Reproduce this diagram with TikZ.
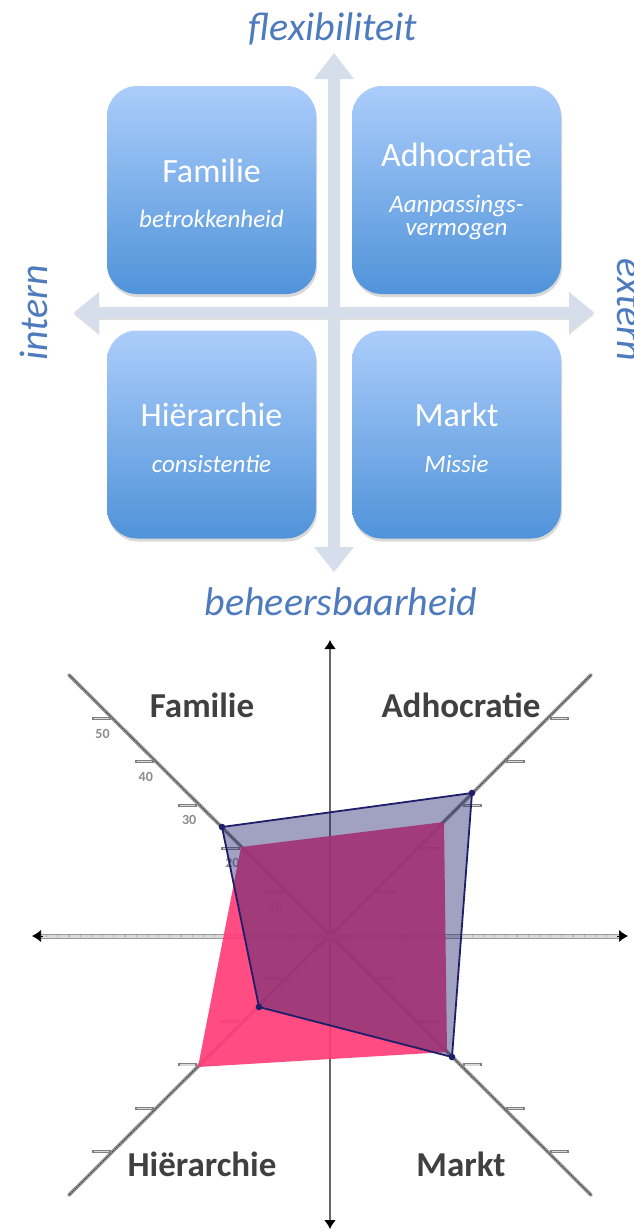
\documentclass[tikz,border=0pt]{standalone}
\usepackage{fontspec}
\setmainfont{Carlito}
\usetikzlibrary{arrows.meta,calc,shadows}

\definecolor{boxtop}{RGB}{171,205,251}
\definecolor{boxbot}{RGB}{80,147,217}
\definecolor{arrowfill}{RGB}{214,221,235}
\definecolor{dimblue}{RGB}{78,122,190}
\definecolor{pinkfill}{RGB}{255,62,122}
\definecolor{navy}{RGB}{30,30,105}
\definecolor{navyfill}{RGB}{38,38,112}

\begin{document}
\begin{tikzpicture}[x=1pt,y=-1pt,
  >={Latex[length=9pt,width=12pt,color=black,fill=black]},
  qbox/.style={rounded corners=30pt, minimum width=209pt, minimum height=208pt,
    inner sep=0pt, top color=boxtop, bottom color=boxbot,
    drop shadow={shadow xshift=1pt, shadow yshift=-3pt, opacity=0.25, fill=black!60}},
  boxtitle/.style={text=white, anchor=base, inner sep=0pt, font=\fontsize{34}{38}\selectfont},
  boxsub/.style={text=white, anchor=base, inner sep=0pt, font=\itshape\fontsize{25}{28}\selectfont},
  dimlab/.style={text=dimblue, anchor=base, inner sep=0pt, font=\itshape\fontsize{40}{44}\selectfont},
  blockarrow/.style={fill=arrowfill},
  chartlab/.style={anchor=base, text=black!75, inner sep=0pt, font=\bfseries\fontsize{35}{38}\selectfont},
  ticklab/.style={inner sep=0pt, text=black!45, font=\bfseries\fontsize{14}{15}\selectfont},
  diagline/.style={line width=3.6pt, draw=black!40, line cap=round},
  diagcore/.style={line width=1.1pt, draw=black!75, densely dotted},
  tickbar/.style={line width=3pt, draw=black!50},
  tickcore/.style={line width=1.2pt, draw=black!15}
]
\useasboundingbox (0,0) rectangle (633,1231);

% ---------- quadrant scheme ----------
% block arrows
\fill[black, opacity=0.12] (99,309) -- (99,292) -- (74,314.5) -- (99,335) -- (99,320) -- (569,320)
  -- (569,335) -- (594,314.5) -- (569,292) -- (569,309) -- cycle;
\fill[blockarrow] (328,79) -- (314,79) -- (334,53) -- (354,79) -- (340,79) -- (340,547)
  -- (354,547) -- (334,572) -- (314,547) -- (328,547) -- cycle;
\fill[blockarrow] (99,307) -- (99,292) -- (74,312.5) -- (99,333) -- (99,318) -- (569,318)
  -- (569,333) -- (594,312.5) -- (569,292) -- (569,307) -- cycle;

% quadrant boxes
\node[qbox] (fam) at (211.5,190) {};
\node[qbox] (adh) at (456.5,190) {};
\node[qbox] (hie) at (211.5,434.5) {};
\node[qbox] (mar) at (456.5,434.5) {};

\node[boxtitle] (famT) at (211.5,182) {Familie};
\node[boxsub]   (famS) at (211.5,227) {betrokkenheid};
\node[boxtitle] (adhT) at (456.5,166) {Adhocratie};
\node[boxsub]   (adhS1) at (456.5,212) {Aanpassings-};
\node[boxsub]   (adhS2) at (456.5,235) {vermogen};
\node[boxtitle] (hieT) at (211.5,426) {Hiërarchie};
\node[boxsub]   (hieS) at (211.5,472) {consistentie};
\node[boxtitle] (marT) at (456.5,426) {Markt};
\node[boxsub]   (marS) at (456.5,472) {Missie};

% dimension labels
\node[dimlab] (flex) at (333,41) {flexibiliteit};
\node[dimlab] (beh) at (341,615) {beheersbaarheid};
\node[dimlab, rotate=90] (int) at (47,313) {intern};
\node[dimlab, rotate=-90] (ext) at (617,310) {extern};

% ---------- radar chart ----------
\coordinate (C) at (330,935);
\coordinate (ul) at (69,675);
\coordinate (ur) at (591,675);
\coordinate (ll) at (69,1195);
\coordinate (lr) at (591,1195);
\coordinate (vt) at (330,640);
\coordinate (vb) at (330,1229);
\coordinate (hl) at (32,936);
\coordinate (hr) at (628,936);

% diagonal axes
\foreach \e in {ul,ur,ll,lr} {
  \draw[diagline] (C) -- (\e);
  \draw[diagcore] (C) -- (\e);
}

% tick marks and scale labels
\foreach \k/\lab in {1/10,2/20,3/30,4/40,5/50} {
  \pgfmathsetmacro\dd{43.3*\k}
  \foreach \sx/\sy in {-1/-1,1/-1,-1/1,1/1} {
    \draw[tickbar] ($(C)+(\sx*\dd+\sx*3,\sy*\dd)$) -- ($(C)+(\sx*\dd+\sx*22,\sy*\dd)$);
    \draw[tickcore] ($(C)+(\sx*\dd+\sx*5,\sy*\dd)$) -- ($(C)+(\sx*\dd+\sx*20,\sy*\dd)$);
  }
  \node[ticklab] (lab\k) at ($(C)+(-\dd-11,-\dd+15)$) {\lab};
}

% vertical axis
\draw[line width=1.6pt, black!60, <->] (vt) -- (vb);

% horizontal axis
\draw[line width=5pt, black!40, shorten <=8pt, shorten >=8pt] (hl) -- (hr);
\draw[line width=3pt, black!15, shorten <=9pt, shorten >=9pt] (hl) -- (hr);
\draw[line width=1.2pt, blue!35!black!30, dash pattern=on 1.2pt off 10pt, shorten <=14pt, shorten >=14pt] (hl) -- (hr);
\draw[line width=0.6pt, black, <-] (hl) -- ($(hl)+(11,0)$);
\draw[line width=0.6pt, black, ->] ($(hr)+(-11,0)$) -- (hr);

% data series
\coordinate (pF) at (241,847);
\coordinate (pA) at (444,822);
\coordinate (pM) at (447,1052);
\coordinate (pH) at (198,1067);
\coordinate (bF) at (222,827);
\coordinate (bA) at (472,793);
\coordinate (bM) at (452,1057);
\coordinate (bH) at (259,1007);

\fill[pinkfill, opacity=0.93] (pF) -- (pA) -- (pM) -- (pH) -- cycle;
\filldraw[fill=navyfill, fill opacity=0.43, draw=navy, line width=1.8pt, line join=round]
  (bF) -- (bA) -- (bM) -- (bH) -- cycle;
\foreach \p in {bF,bA,bM,bH} \fill[navy] (\p) circle (3.3);

% category labels
\node[chartlab] (cFam) at (202,717) {Familie};
\node[chartlab] (cAdh) at (461,717) {Adhocratie};
\node[chartlab] (cHie) at (202,1176) {Hiërarchie};
\node[chartlab] (cMar) at (461,1176) {Markt};
\end{tikzpicture}
\end{document}
